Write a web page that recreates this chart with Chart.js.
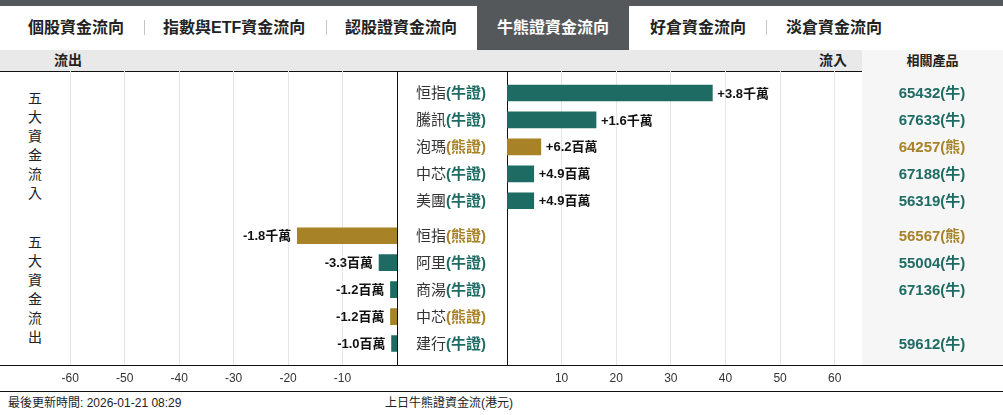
<!DOCTYPE html>
<html><head><meta charset="utf-8">
<script src="https://cdn.jsdelivr.net/npm/chart.js@4.4.0/dist/chart.umd.min.js"></script>
<style>
html,body{margin:0;padding:0;background:#fff;}
body{width:1003px;height:415px;position:relative;overflow:hidden;font-family:"Liberation Sans","Noto Sans CJK TC",sans-serif;color:#222;}
.abs{position:absolute;}
#topbar{left:0;top:0;width:1003px;height:6px;background:#54585b;}
.tab{position:absolute;top:6px;height:44px;line-height:44px;font-size:16px;font-weight:bold;color:#222;white-space:nowrap;}
.sep{position:absolute;top:20px;width:1px;height:15px;background:#c4c4c4;}
#hdr{left:0;top:50px;width:862px;height:21px;background:#e9e9e9;}
#hdr2{left:862px;top:50px;width:141px;height:315px;background:#f6f6f6;}
.hl{position:absolute;height:1px;background:#111;}
.htxt{position:absolute;top:50px;height:21px;line-height:21px;font-size:14px;font-weight:bold;color:#222;}
.vlab{position:absolute;left:27px;width:16px;font-size:14px;line-height:19px;text-align:center;color:#222;}
.foot{position:absolute;top:395px;font-size:12px;line-height:16px;color:#222;white-space:nowrap;}
canvas{position:absolute;}
</style>
</head><body>
<div id="topbar" class="abs"></div>
<div id="tabs"></div>
<div id="hdr" class="abs"></div>
<div id="hdr2" class="abs"></div>
<div class="htxt" style="left:54px;">流出</div>
<div class="htxt" style="left:819px;">流入</div>
<div class="htxt" style="left:862px;width:141px;text-align:center;font-size:13px;">相關產品</div>
<div class="hl" style="left:0;top:71px;width:862px;"></div>
<div id="vl1" class="vlab" style="top:89px;"></div>
<div id="vl2" class="vlab" style="top:233px;"></div>
<div class="hl" style="left:0;top:365px;width:1003px;"></div>
<div class="hl" style="left:0;top:391px;width:1003px;"></div>
<div class="foot" style="left:8px;">最後更新時間: 2026-01-21 08:29</div>
<div class="foot" style="left:385px;">上日牛熊證資金流(港元)</div>
<canvas id="cLeft" width="400" height="344" style="left:0;top:71px;width:400px;height:344px;"></canvas>
<canvas id="cRight" width="606" height="344" style="left:397px;top:71px;width:606px;height:344px;"></canvas>
<script>
// ---- data ----
const tabLabels = ['個股資金流向','指數與ETF資金流向','認股證資金流向','牛熊證資金流向','好倉資金流向','淡倉資金流向'];
const activeTab = 3;
const sideLabels = ['五大資金流入','五大資金流出'];

const inflowNames  = ['恒指','騰訊','泡瑪','中芯','美團'];
const inflowTypes  = ['牛','牛','熊','牛','牛'];
const inflowValues = [37.6, 16.3, 6.2, 4.9, 4.9];        // 百萬港元
const inflowCodes  = ['65432','67633','64257','67188','56319'];

const outflowNames  = ['恒指','阿里','商湯','中芯','建行'];
const outflowTypes  = ['熊','牛','牛','熊','牛'];
const outflowValues = [-18.3, -3.3, -1.2, -1.2, -1.0];   // 百萬港元
const outflowCodes  = ['56567','55004','67136','','59612'];

const leftTicks  = [-60,-50,-40,-30,-20,-10];
const rightTicks = [10,20,30,40,50,60];

// ---- styles ----
const TEAL = '#1e6b63', GOLD = '#a78226';
const typeColor = t => t === '牛' ? TEAL : GOLD;
const FONT = '"Liberation Sans", "Noto Sans CJK TC", sans-serif';
Chart.defaults.font.family = FONT;

// tabs
(function(){
  const pos = [{l:28},{l:163},{l:345},{l:477,w:152},{l:650},{l:786}];
  const seps = [144,326,766];
  const host = document.getElementById('tabs');
  tabLabels.forEach((t,i)=>{
    const d = document.createElement('div');
    d.className='tab'; d.textContent=t; d.style.left=pos[i].l+'px';
    if(i===activeTab){ d.style.width=pos[i].w+'px'; d.style.textAlign='center'; d.style.background='#54585b'; d.style.color='#fff'; }
    host.appendChild(d);
  });
  seps.forEach(x=>{const s=document.createElement('div');s.className='sep';s.style.left=x+'px';host.appendChild(s);});
  document.getElementById('vl1').innerHTML = sideLabels[0].split('').join('<br>');
  document.getElementById('vl2').innerHTML = sideLabels[1].split('').join('<br>');
})();

function fmt(v){
  const a = Math.abs(v), s = v > 0 ? '+' : '-';
  return a >= 10 ? s + (a/10).toFixed(1) + '千萬' : s + a.toFixed(1) + '百萬';
}

function rowScales(){
  const base = {display:true, position:'left', stack:'rows', offset:true,
    ticks:{display:false}, grid:{display:false, drawTicks:false, tickLength:0}, border:{display:false}};
  return {
    yIn:  Object.assign({}, base, {type:'category', labels: inflowNames,  stackWeight:135, weight:3}),
    yGap: Object.assign({}, base, {type:'category', labels: [''],         stackWeight:8,   weight:2}),
    yOut: Object.assign({}, base, {type:'category', labels: outflowNames, stackWeight:135, weight:1})
  };
}

const GRID_TOP = 0, GRID_BOTTOM = 294;

const gridPlugin = {
  id:'gridLines',
  beforeDatasetsDraw(chart){
    const ctx = chart.ctx, xs = chart.scales.x;
    ctx.save();
    ctx.lineWidth = 1;
    ctx.strokeStyle = '#e6e6e6';
    xs.ticks.forEach(t=>{
      const x = Math.floor(xs.getPixelForValue(t.value)) + 0.5;
      ctx.beginPath(); ctx.moveTo(x, GRID_TOP); ctx.lineTo(x, GRID_BOTTOM); ctx.stroke();
    });
    ctx.strokeStyle = '#111';
    const x0 = Math.floor(xs.getPixelForValue(0)) + 0.5;
    ctx.beginPath(); ctx.moveTo(x0, GRID_TOP); ctx.lineTo(x0, GRID_BOTTOM); ctx.stroke();
    ctx.restore();
  },
  afterDatasetsDraw(chart){
    const ctx = chart.ctx;
    ctx.save();
    ctx.font = 'bold 13px ' + FONT;
    ctx.fillStyle = '#111';
    ctx.textBaseline = 'middle';
    chart.data.datasets.forEach((ds, di)=>{
      const meta = chart.getDatasetMeta(di);
      meta.data.forEach((bar, i)=>{
        const v = ds.data[i];
        if (v > 0){ ctx.textAlign='left'; ctx.fillText(fmt(v), bar.x + 5, bar.y + 1); }
        else { ctx.textAlign='right'; ctx.fillText(fmt(v), bar.x - 6, bar.y + 1); }
      });
    });
    ctx.restore();
  }
};

const labelPlugin = {
  id:'rowLabels',
  afterDraw(chart){
    const ctx = chart.ctx, ca = chart.chartArea;
    ctx.save();
    ctx.textBaseline = 'middle';
    const groups = [
      {scale: chart.scales.yIn,  names: inflowNames,  types: inflowTypes,  codes: inflowCodes},
      {scale: chart.scales.yOut, names: outflowNames, types: outflowTypes, codes: outflowCodes}
    ];
    groups.forEach(g=>{
      g.names.forEach((n, i)=>{
        const y = g.scale.getPixelForValue(i) + 1;
        const col = typeColor(g.types[i]);
        const tpart = '(' + g.types[i] + '證)';
        ctx.font = 'bold 15px ' + FONT;
        const wT = ctx.measureText(tpart).width;
        ctx.font = '15px ' + FONT;
        const wN = ctx.measureText(n).width;
        const xr = ca.left - 21;
        ctx.textAlign = 'left';
        ctx.fillStyle = '#333';
        ctx.fillText(n, xr - wT - wN, y);
        ctx.font = 'bold 15px ' + FONT;
        ctx.fillStyle = col;
        ctx.fillText(tpart, xr - wT, y);
        if (g.codes[i]){
          ctx.textAlign = 'center';
          ctx.font = 'bold 15px ' + FONT;
          ctx.fillText(g.codes[i] + '(' + g.types[i] + ')', ca.right + 70, y);
        }
      });
    });
    ctx.restore();
  }
};

function xScale(min, max, ticks){
  return {type:'linear', min, max,
    afterBuildTicks: ax => { ax.ticks = ticks.map(v => ({value:v})); },
    ticks:{font:{size:12}, color:'#333', padding:14, maxRotation:0, autoSkip:false},
    grid:{display:false, drawTicks:false, tickLength:0}, border:{display:false}};
}

const PAD_TOP = 8.5, PAD_BOTTOM = 15.6;

new Chart(document.getElementById('cLeft'), {
  type:'bar',
  data:{datasets:[{data: outflowValues, yAxisID:'yOut',
    backgroundColor: outflowTypes.map(typeColor), barThickness:16, borderWidth:0}]},
  options:{indexAxis:'y', responsive:false, animation:false,
    layout:{padding:{left:43, right:3, top:PAD_TOP, bottom:PAD_BOTTOM}},
    plugins:{legend:{display:false}, tooltip:{enabled:false}},
    scales: Object.assign({x: xScale(-65, 0, leftTicks)}, rowScales())},
  plugins:[gridPlugin]
});

new Chart(document.getElementById('cRight'), {
  type:'bar',
  data:{datasets:[{data: inflowValues, yAxisID:'yIn',
    backgroundColor: inflowTypes.map(typeColor), barThickness:16, borderWidth:0}]},
  options:{indexAxis:'y', responsive:false, animation:false,
    layout:{padding:{left:110, right:141, top:PAD_TOP, bottom:PAD_BOTTOM}},
    plugins:{legend:{display:false}, tooltip:{enabled:false}},
    scales: Object.assign({x: xScale(0, 65, rightTicks)}, rowScales())},
  plugins:[gridPlugin, labelPlugin]
});
</script>
</body></html>
